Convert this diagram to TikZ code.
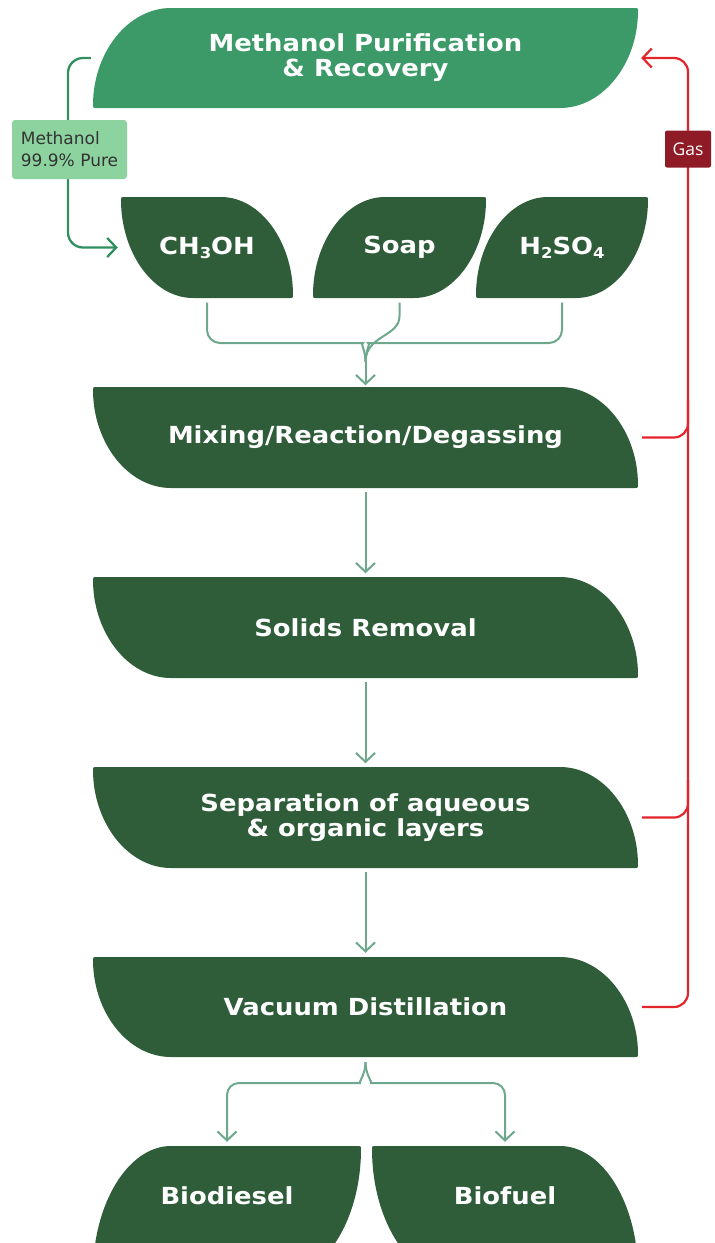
\documentclass[tikz,border=0pt]{standalone}
\usepackage{fontspec}
\usetikzlibrary{arrows.meta}
\newfontfamily\bfont{DejaVu Sans}[FakeStretch=1.1]
\newfontfamily\lfont{DejaVu Sans}
\newfontfamily\gfont{Open Sans}
\definecolor{dkgreen}{HTML}{2F5D3A}
\definecolor{topgreen}{HTML}{3B9A68}
\definecolor{labgreen}{HTML}{8DD3A0}
\definecolor{methgreen}{HTML}{2F8F5F}
\definecolor{flowc}{HTML}{6EA88C}
\definecolor{gasred}{HTML}{E3242B}
\definecolor{gasbox}{HTML}{8E1B25}
\newcommand\lowsub[1]{\raisebox{-0.32ex}{\fontsize{15}{15}\selectfont #1}}
% leaf A: top-left and bottom-right rounded
\newcommand\leafA[6]{%
  \fill[#6] (#1,{#4-3}) .. controls (#1,{#4-0.5523*(#4-#2)}) and ({#1+0.4477*#5},#2) .. ({#1+#5},#2)
  -- ({#3-3},#2) .. controls (#3,#2) .. (#3,{#2+3})
  .. controls (#3,{#2+0.5523*(#4-#2)}) and ({#3-0.4477*#5},#4) .. ({#3-#5},#4)
  -- ({#1+3},#4) .. controls (#1,#4) .. (#1,{#4-3}) -- cycle;}
% leaf B: top-right and bottom-left rounded
\newcommand\leafB[6]{%
  \fill[#6] (#1,{#2+3}) .. controls (#1,#2) .. ({#1+3},#2)
  -- ({#3-#5},#2) .. controls ({#3-0.4477*#5},#2) and (#3,{#4-0.5523*(#4-#2)}) .. (#3,{#4-3})
  .. controls (#3,#4) .. ({#3-3},#4)
  -- ({#1+#5},#4) .. controls ({#1+0.4477*#5},#4) and (#1,{#2+0.5523*(#4-#2)}) .. (#1,{#2+3}) -- cycle;}
\begin{document}
\begin{tikzpicture}[x=1pt,y=-1pt,
  boxtext/.style={inner sep=0pt, align=center, text=white,
    font=\bfont\bfseries\fontsize{23.5}{25}\selectfont},
  bigbox/.style={boxtext, minimum width=545pt, minimum height=100pt},
  smallbox/.style={boxtext, minimum width=172pt, minimum height=100pt},
  endbox/.style={boxtext, minimum width=267pt, minimum height=100pt},
  flowarrow/.style={-{Straight Barb[length=9pt,width=19pt]}},
  flowline/.style={draw=flowc, line width=2pt},
  redline/.style={draw=gasred, line width=2.2pt},
  methline/.style={draw=methgreen, line width=2.3pt},
  lablbox/.style={fill=labgreen, rounded corners=3pt, minimum width=115pt, minimum height=59pt,
    inner sep=0pt, align=left, text=black!80, font=\lfont\fontsize{17}{22}\selectfont},
  gaslbl/.style={fill=gasbox, rounded corners=2pt, minimum width=46pt, minimum height=37pt,
    inner sep=0pt, text=white, font=\gfont\fontsize{17.5}{20}\selectfont}]
\useasboundingbox (0,0) rectangle (715,1243);
\clip (0,0) rectangle (715,1243);
% shapes
\leafA{93}{8}{638}{108}{78}{topgreen}
\leafB{121}{197}{293}{298}{72}{dkgreen}
\leafA{313}{197}{486}{298}{72}{dkgreen}
\leafA{476}{197}{648}{298}{72}{dkgreen}
\leafB{93}{387}{638}{488}{78}{dkgreen}
\leafB{93}{577}{638}{678}{78}{dkgreen}
\leafB{93}{767}{638}{868}{78}{dkgreen}
\leafB{93}{957}{638}{1057}{78}{dkgreen}
\leafA{93}{1146}{361}{1276}{78}{dkgreen}
\leafB{372}{1146}{638}{1276}{78}{dkgreen}
% nodes
\node[bigbox] (top) at (365.5,58) {Methanol Purification\\\& Recovery};
\node[smallbox] (ch) at (207,247.5) {CH\lowsub{3}OH};
\node[smallbox] (soap) at (399.5,247.5) {Soap};
\node[smallbox] (acid) at (562,247.5) {H\lowsub{2}SO\lowsub{4}};
\node[bigbox] (mix) at (365.5,437.5) {Mixing/Reaction/Degassing};
\node[bigbox] (solid) at (365.5,627.5) {Solids Removal};
\node[bigbox] (sep) at (365.5,817.5) {Separation of aqueous\\\& organic layers};
\node[bigbox] (vac) at (365.5,1007) {Vacuum Distillation};
\node[endbox] (bd) at (227,1196) {Biodiesel};
\node[endbox] (bf) at (505,1196) {Biofuel};
% merge of the three feeds
\coordinate (merge) at (365.5,362);
\draw[flowline, rounded corners=13pt] ([yshift=-5pt]ch.south) |- (350,343) .. controls (360,343) and (365.5,350) .. (merge);
\draw[flowline] ([yshift=-5pt]soap.south) -- (399.5,316) .. controls (399.5,337) and (365.5,335) .. (merge);
\draw[flowline, rounded corners=13pt] ([yshift=-5pt]acid.south) |- (381,343) .. controls (371,343) and (365.5,350) .. (merge);
\draw[flowline, flowarrow] (merge) -- ([yshift=2pt]mix.north);
% main chain
\draw[flowline, flowarrow] ([yshift=-4pt]mix.south) -- ([yshift=4pt]solid.north);
\draw[flowline, flowarrow] ([yshift=-4pt]solid.south) -- ([yshift=4pt]sep.north);
\draw[flowline, flowarrow] ([yshift=-4pt]sep.south) -- ([yshift=4pt]vac.north);
% split to products
\coordinate (split) at ([yshift=-5pt]vac.south);
\draw[flowline, flowarrow, rounded corners=12pt] (split) .. controls (365.5,1075) and (358,1083) .. (348,1083) -- (227,1083) -- ([yshift=4pt]bd.north);
\draw[flowline, flowarrow, rounded corners=12pt] (split) .. controls (365.5,1075) and (373,1083) .. (383,1083) -- (505,1083) -- ([yshift=4pt]bf.north);
% gas return
\coordinate (rail) at (688,0);
\coordinate (gasin) at ([xshift=3pt]top.east);
\draw[redline, flowarrow, rounded corners=14pt] ([xshift=4pt]vac.east) -- (vac.east -| rail) -- (gasin -| rail) -- (gasin);
\draw[redline, rounded corners=14pt] ([xshift=4pt]mix.east) -- (mix.east -| rail) -- (688,400);
\draw[redline, rounded corners=14pt] ([xshift=4pt]sep.east) -- (sep.east -| rail) -- (688,780);
\node[gaslbl] (gas) at (688,149) {Gas};
% methanol recycle
\coordinate (chin) at ([xshift=-3pt]ch.west);
\draw[methline, flowarrow, rounded corners=15pt] ([xshift=-2pt]top.west) -- (68,58) -- (68,247.5) -- (chin);
\node[lablbox] (lab) at (69.5,149.5) {Methanol\\99.9\% Pure};
\end{tikzpicture}
\end{document}
